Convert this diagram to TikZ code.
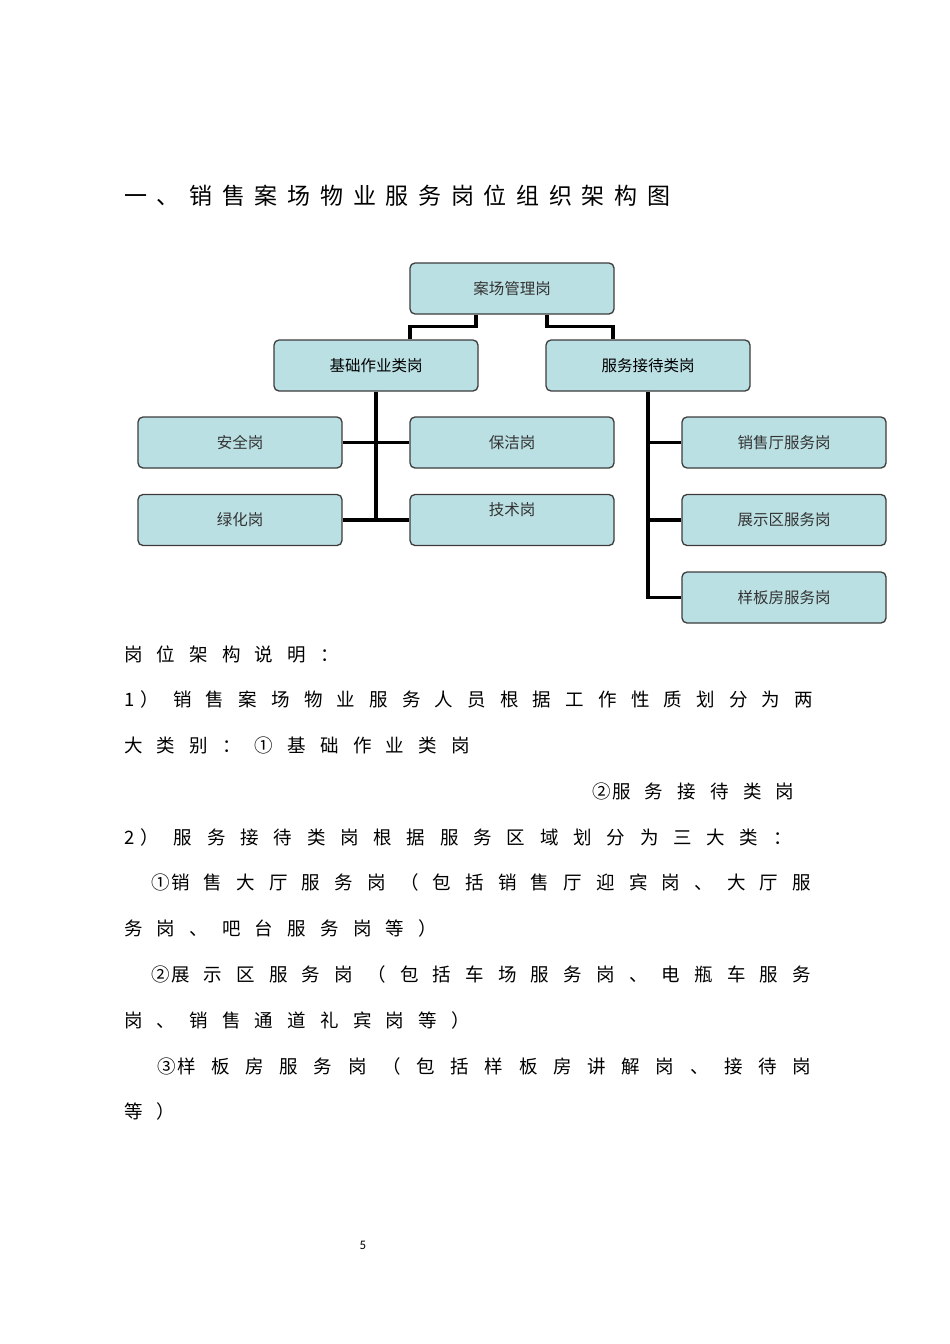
\documentclass[tikz,border=0pt]{standalone}
\usepackage{fontspec}
\setmainfont{Noto Sans CJK SC}
\newfontfamily\latinfont{Carlito}
\usetikzlibrary{positioning}

\definecolor{boxfill}{RGB}{187,224,227}
\definecolor{boxline}{RGB}{60,60,60}

% fixed character pitch, as in the spaced-out page text
\newlength\pitch
\setlength\pitch{32.7pt}
\makeatletter
\newcommand\spaced[1]{\@tfor\onechar:=#1\do{\makebox[\pitch][l]{\onechar}}}
\makeatother

\tikzset{
  post/.style={draw=boxline, line width=1.3pt, fill=boxfill, rounded corners=5pt,
    minimum width=204pt, minimum height=51pt, font=\fontsize{15.5}{17}\selectfont, text=black!80},
  group/.style={post, text=black},
  link/.style={line width=3.5pt},
  para/.style={anchor=west, inner sep=0pt, font=\fontsize{18.5}{21}\selectfont}
}

\begin{document}
\begin{tikzpicture}[x=1pt, y=-1pt]
	\useasboundingbox (0,0) rectangle (950,1344);
	
	\node[para, font=\fontsize{23}{25}\selectfont] (title) at (124,196) {\spaced{一、销售案场物业服务岗位组织架构图}};
	
	% chart
	\node[post] (guanli) at (512,288.5) {案场管理岗};
	\node[group] (jichu) at (376,365.5) {基础作业类岗};
	\node[group] (fuwu) at (648,365.5) {服务接待类岗};
	\node[post] (anquan) at (240,442.5) {安全岗};
	\node[post] (baojie) at (512,442.5) {保洁岗};
	\node[post] (lvhua) at (240,520) {绿化岗};
	\node[post, text depth=22pt] (jishu) at (512,520) {技术岗};
	\node[post] (xiaoshou) at (784,442.5) {销售厅服务岗};
	\node[post] (zhanshi) at (784,520) {展示区服务岗};
	\node[post] (yangban) at (784,597.5) {样板房服务岗};
	
	\draw[link] ([xshift=-36pt]guanli.south) -- ++(0,12) -| ([xshift=34pt]jichu.north);
	\draw[link] ([xshift=35pt]guanli.south) -- ++(0,12) -| ([xshift=-35pt]fuwu.north);
	
	\draw[link] (jichu.south) -- (jichu.south |- lvhua.east);
	\draw[link] (anquan.east) -- (baojie.west);
	\draw[link] (lvhua.east) -- (jishu.west);
	
	\draw[link] (fuwu.south) |- (yangban.west);
	\draw[link] (fuwu.south |- xiaoshou.west) -- (xiaoshou.west);
	\draw[link] (fuwu.south |- zhanshi.west) -- (zhanshi.west);
	
	% notes
	\node[para] (intro) at (124,654) {\spaced{岗位架构说明：}};
	\node[para] (line1) at (124,699) {\makebox[.5\pitch][l]{1}\spaced{）销售案场物业服务人员根据工作性质划分为两}};
	\node[para] (line2) at (124,745) {\spaced{大类别：①基础作业类岗}};
	\node[para] (line3) at (592,791) {\makebox[20pt][l]{②}\spaced{服务接待类岗}};
	\node[para] (line4) at (124,837) {\makebox[.5\pitch][l]{2}\setlength\pitch{33.3pt}\spaced{）服务接待类岗根据服务区域划分为三大类：}};
	\node[para] (line5) at (151,882) {\makebox[20pt][l]{①}\spaced{销售大厅服务岗（包括销售厅迎宾岗、大厅服}};
	\node[para] (line6) at (124,928) {\spaced{务岗、吧台服务岗等）}};
	\node[para] (line7) at (151,974) {\makebox[20pt][l]{②}\spaced{展示区服务岗（包括车场服务岗、电瓶车服务}};
	\node[para] (line8) at (124,1020) {\spaced{岗、销售通道礼宾岗等）}};
	\node[para] (line9) at (157,1066) {\makebox[20pt][l]{③}\setlength\pitch{34.2pt}\spaced{样板房服务岗（包括样板房讲解岗、接待岗}};
	\node[para] (line10) at (124,1111) {\spaced{等）}};
	
	\node[font=\latinfont\fontsize{13}{15}\selectfont] (pageno) at (363,1245) {5};
\end{tikzpicture}
\end{document}
